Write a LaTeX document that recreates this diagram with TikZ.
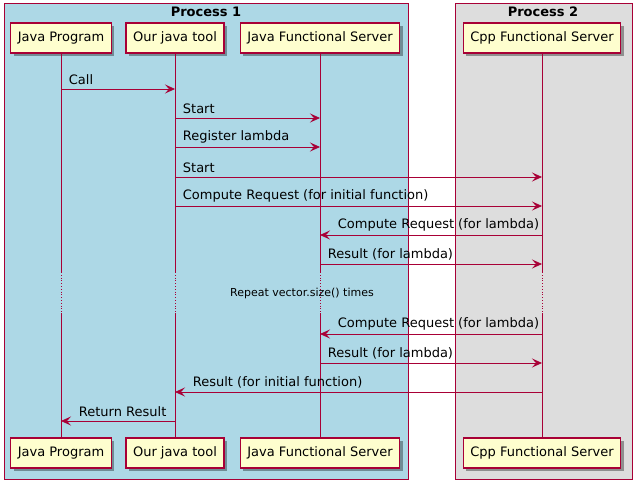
\documentclass[tikz,border=0pt]{standalone}
\usepackage{fontspec}
\setmainfont{DejaVu Sans}
\usetikzlibrary{arrows.meta, shadows}

\definecolor{umlred}{HTML}{A80036}
\definecolor{umlbox}{HTML}{FEFECE}
\definecolor{procone}{HTML}{ADD8E6}
\definecolor{proctwo}{HTML}{DDDDDD}

\tikzset{
  actor/.style={draw=umlred, fill=umlbox, line width=1.2pt, minimum height=30pt,
    inner xsep=7pt, font=\fontsize{13}{15}\selectfont,
    drop shadow={shadow xshift=3pt, shadow yshift=-3pt, opacity=0.35, fill=black}},
  frame/.style={draw=umlred, line width=1pt},
  title/.style={font=\fontsize{13}{15}\selectfont\bfseries},
  life/.style={draw=umlred, line width=0.8pt},
  msg/.style={draw=umlred, line width=0.8pt, -{Stealth[length=10pt, width=9pt, inset=4pt]}},
  lbr/.style={anchor=south west, inner xsep=1.5pt, inner ysep=3.5pt, xshift=6pt, font=\fontsize{13}{15}\selectfont},
  lbl/.style={anchor=south west, inner xsep=1.5pt, inner ysep=3.5pt, xshift=16pt, font=\fontsize{13}{15}\selectfont}
}

\begin{document}
\begin{tikzpicture}[x=1pt, y=-1pt]
    \useasboundingbox (0,0) rectangle (641,487);

    % process boxes
    \filldraw[frame, fill=procone] (4,4) rectangle (408,479);
    \filldraw[frame, fill=proctwo] (455,4) rectangle (632,479);
    \node[title] (p1) at (206,12) {Process 1};
    \node[title] (p2) at (543,12) {Process 2};

    % participants
    \node[actor] (jp) at (61,38) {Java Program};
    \node[actor] (tool) at (175,38) {Our java tool};
    \node[actor] (jfs) at (320,38) {Java Functional Server};
    \node[actor] (cpp) at (542,38) {Cpp Functional Server};

    \node[actor] (jpb) at (61,453) {Java Program};
    \node[actor] (toolb) at (175,453) {Our java tool};
    \node[actor] (jfsb) at (320,453) {Java Functional Server};
    \node[actor] (cppb) at (542,453) {Cpp Functional Server};

    % lifelines
    \foreach \a/\b in {jp/jpb, tool/toolb, jfs/jfsb, cpp/cppb}{
      \draw[life] (\a.south) -- (\a |- 0,272);
      \draw[life, dotted] (\a |- 0,272) -- (\a |- 0,313);
      \draw[life] (\a |- 0,313) -- (\b.north);
    }

    % messages
    \draw[msg] (jp |- 0,89) -- (tool |- 0,89) node[lbr, pos=0] {Call};
    \draw[msg] (tool |- 0,118) -- (jfs |- 0,118) node[lbr, pos=0] {Start};
    \draw[msg] (tool |- 0,147) -- (jfs |- 0,147) node[lbr, pos=0] {Register lambda};
    \draw[msg] (tool |- 0,177) -- (cpp |- 0,177) node[lbr, pos=0] {Start};
    \draw[msg] (tool |- 0,206) -- (cpp |- 0,206) node[lbr, pos=0] {Compute Request (for initial function)};
    \draw[msg] (cpp |- 0,235) -- (jfs |- 0,235) node[lbl, pos=1] {Compute Request (for lambda)};
    \draw[msg] (jfs |- 0,264) -- (cpp |- 0,264) node[lbr, pos=0] {Result (for lambda)};

    \node[font=\fontsize{11}{13}\selectfont] (rep) at (302,293) {Repeat vector.size() times};

    \draw[msg] (cpp |- 0,334) -- (jfs |- 0,334) node[lbl, pos=1] {Compute Request (for lambda)};
    \draw[msg] (jfs |- 0,363) -- (cpp |- 0,363) node[lbr, pos=0] {Result (for lambda)};
    \draw[msg] (cpp |- 0,392) -- (tool |- 0,392) node[lbl, pos=1] {Result (for initial function)};
    \draw[msg] (tool |- 0,421) -- (jp |- 0,421) node[lbl, pos=1] {Return Result};
\end{tikzpicture}
\end{document}
